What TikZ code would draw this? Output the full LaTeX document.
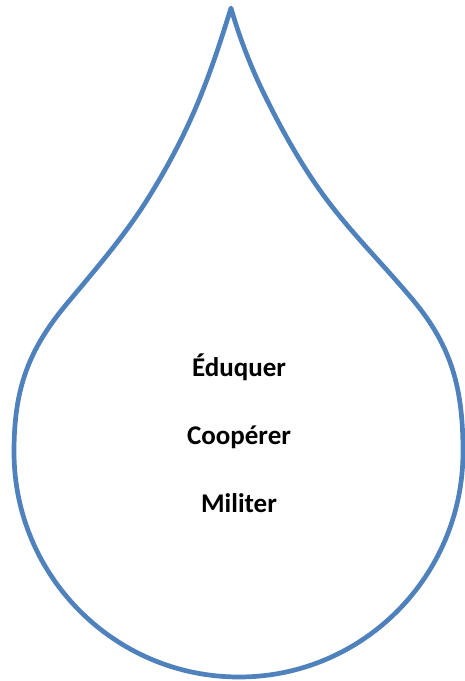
\documentclass[tikz,border=0pt]{standalone}
\usepackage{fontspec}
\setmainfont{Carlito}
\definecolor{dropblue}{HTML}{4F81BD}
\begin{document}
\begin{tikzpicture}[x=1pt,y=-1pt,
  dropline/.style={draw=dropblue,line width=4.7pt,line join=round},
  word/.style={anchor=base,font=\fontsize{27}{30}\selectfont\bfseries,inner sep=0pt}]
\useasboundingbox (0,0) rectangle (464,681);
\coordinate (tip) at (231,8);
\draw[dropline] (tip)
  .. controls (221.4,39.0) and (211.3,69.9) .. (199,100)
  .. controls (184.7,134.8) and (167.0,168.2) .. (147,200)
  .. controls (124.6,235.6) and (96.9,267.7) .. (70,300)
  .. controls (28.5,348.5) and (14,388.2) .. (14,452)
  .. controls (14,576.2) and (114.8,677) .. (239,677)
  .. controls (362.7,677) and (463,576.2) .. (463,452)
  .. controls (463,390) and (452.7,347.6) .. (413,300)
  .. controls (384.8,266.2) and (353.4,235.2) .. (327,200)
  .. controls (303.7,168.9) and (284.4,134.8) .. (267,100)
  .. controls (252.3,70.6) and (240.0,39.6) .. (tip) -- cycle;
\node[word] (w1) at (239,376) {Éduquer};
\node[word] (w2) at (239,444) {Coopérer};
\node[word] (w3) at (239,512) {Militer};
\end{tikzpicture}
\end{document}
